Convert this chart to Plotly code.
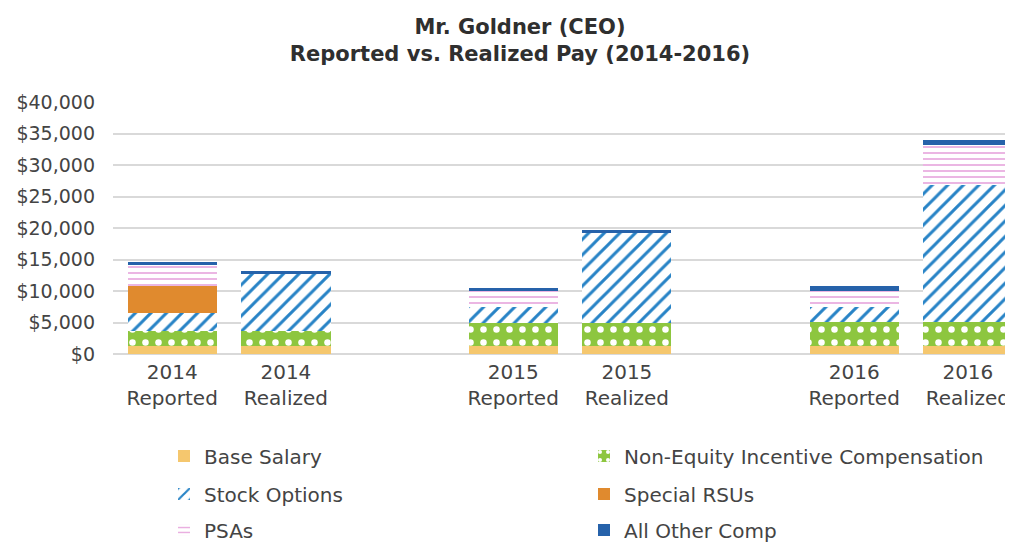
import plotly.graph_objects as go

# values in $ thousands
categories = ["2014<br>Reported", "2014<br>Realized", "2015<br>Reported",
              "2015<br>Realized", "2016<br>Reported", "2016<br>Realized"]
category_order = ["2014<br>Reported", "2014<br>Realized", " ",
                  "2015<br>Reported", "2015<br>Realized", "  ",
                  "2016<br>Reported", "2016<br>Realized"]
base_salary = [1250, 1250, 1350, 1350, 1270, 1270]
non_equity = [2400, 2400, 3650, 3650, 3850, 3850]
stock_options = [2800, 9200, 2450, 14200, 2400, 21700]
special_rsus = [4350, 0, 0, 0, 0, 0]
psas = [3300, 0, 2500, 0, 2550, 6400]
all_other = [500, 300, 500, 500, 750, 700]

y_tickvals = [0, 5000, 10000, 15000, 20000, 25000, 30000, 35000, 40000]
y_ticktext = ["$0", "$5,000", "$10,000", "$15,000", "$20,000",
              "$25,000", "$30,000", "$35,000", "$40,000"]

FONT = "DejaVu Sans"
TXT = "#444444"
BW = 0.785
OFF = 8  # page body margin offset

fig = go.Figure()

def add(name, vals, color, legend, pattern=None):
    marker = dict(color=color, line=dict(width=0))
    if pattern:
        pattern.update(fillmode="replace", fgopacity=1)
        marker["pattern"] = pattern
    fig.add_trace(go.Bar(x=categories, y=vals, name=name, marker=marker,
                         width=BW, legend=legend))

add("Base Salary", base_salary, "#F5C76E", "legend")
add("Non-Equity Incentive Compensation", non_equity, "#8DC63F", "legend",
    dict(shape=".", bgcolor="#8DC63F", fgcolor="#ffffff", size=13, solidity=0.2))
add("Stock Options", stock_options, "#ffffff", "legend2",
    dict(shape="/", bgcolor="#ffffff", fgcolor="#2783C6", size=11, solidity=0.27))
add("Special RSUs", special_rsus, "#E08A2E", "legend2")
add("PSAs", psas, "#ffffff", "legend3",
    dict(shape="-", bgcolor="#ffffff", fgcolor="#E8A8DE", size=6, solidity=0.28))
add("All Other Comp", all_other, "#2662AA", "legend3")

leg_common = dict(orientation="h", xref="container", yref="container",
                  x=(164 - OFF) / 1013, xanchor="left", yanchor="middle",
                  entrywidth=375, font=dict(family=FONT, size=20, color=TXT),
                  bgcolor="rgba(0,0,0,0)", traceorder="normal")

fig.update_layout(
    width=1013, height=542,
    barmode="stack",
    paper_bgcolor="white", plot_bgcolor="white",
    margin=dict(l=106 - OFF, r=OFF, t=102 - OFF, b=542 - (354 - OFF)),
    title=dict(text="<b>Mr. Goldner (CEO)<br>Reported vs. Realized Pay (2014-2016)</b>",
               x=(520 - OFF) / 1013, xanchor="center", y=1 - (34 - OFF) / 542,
               yanchor="middle", xref="container", yref="container",
               font=dict(family=FONT, size=21, color="#2f2f2f")),
    xaxis=dict(type="category", categoryorder="array", categoryarray=category_order,
               range=[-0.521, 7.397], showgrid=False, showline=False, ticks="",
               ticklabelstandoff=4,
               tickfont=dict(family=FONT, size=20, color=TXT)),
    yaxis=dict(range=[0, 40000], tickvals=y_tickvals, ticktext=y_ticktext,
               showgrid=True, gridcolor="#d9d9d9", gridwidth=1.5,
               zeroline=True, zerolinecolor="#d9d9d9", zerolinewidth=1.5,
               showline=False, ticks="", ticklabelstandoff=17,
               tickfont=dict(family=FONT, size=19, color=TXT)),
    legend=dict(y=1 - (456 - OFF) / 542, **leg_common),
    legend2=dict(y=1 - (494 - OFF) / 542, **leg_common),
    legend3=dict(y=1 - (530 - OFF) / 542, **leg_common),
)

fig.write_html("out.html")
